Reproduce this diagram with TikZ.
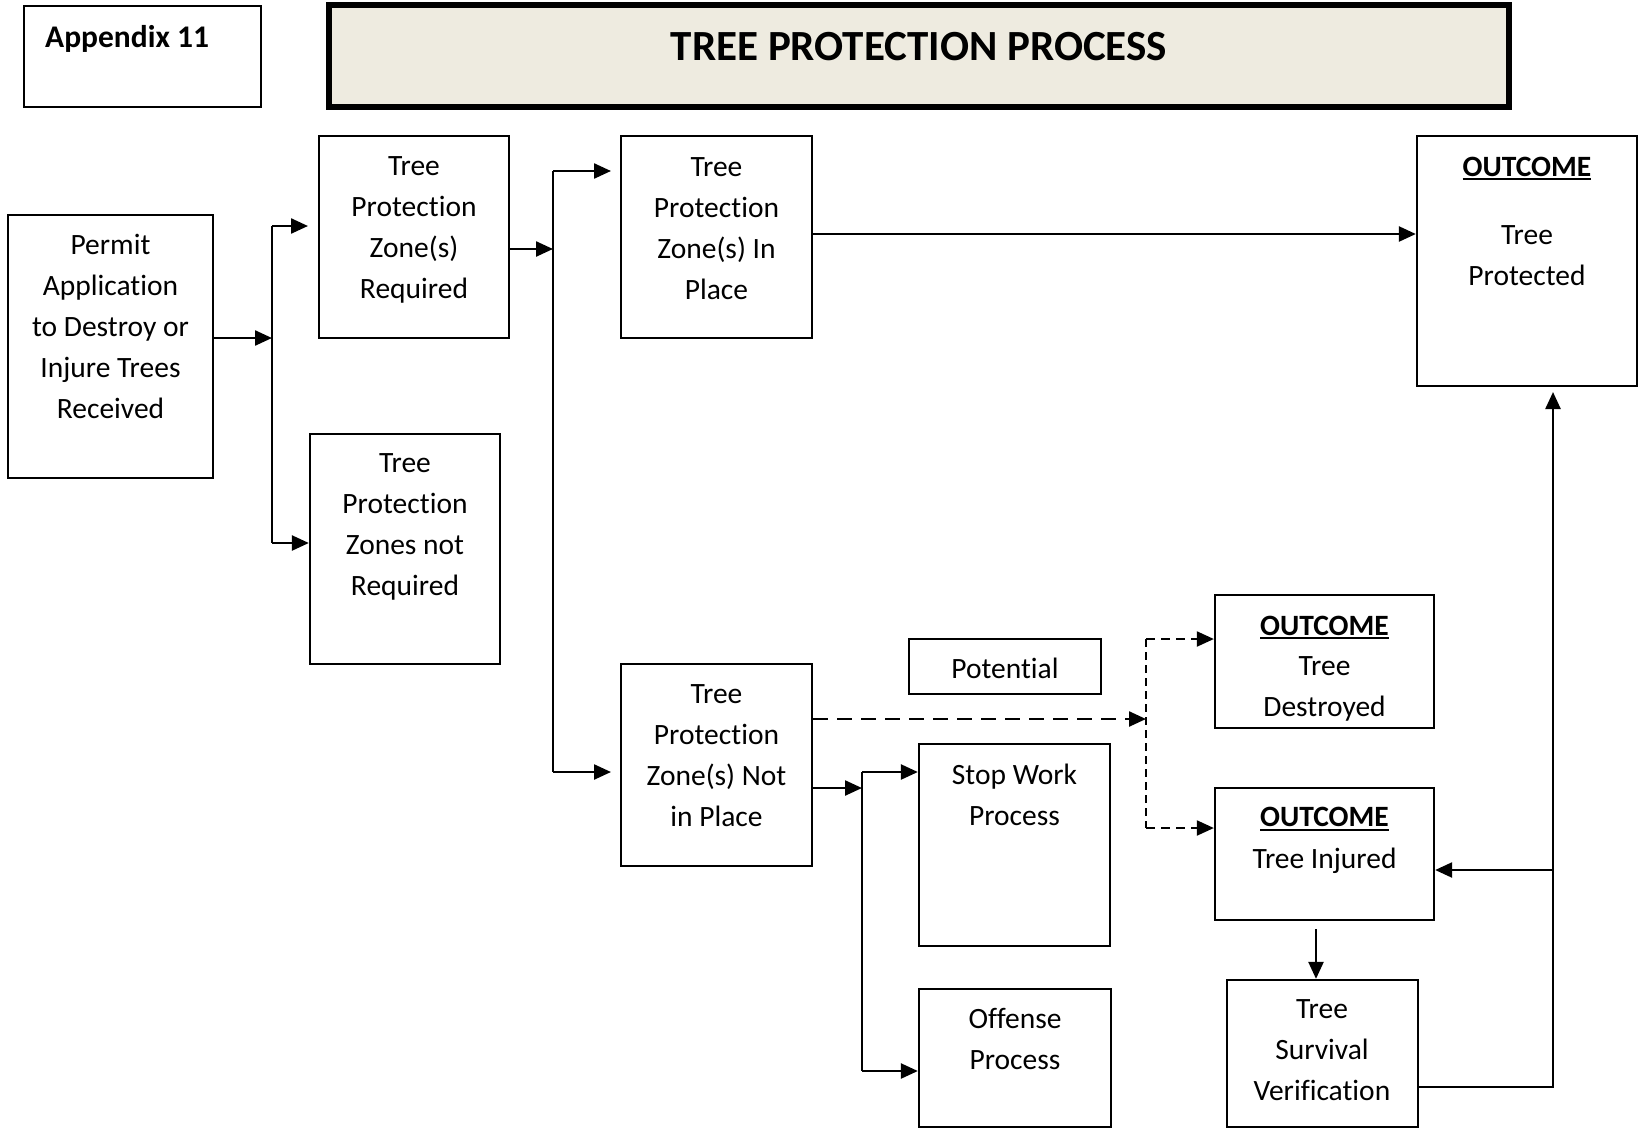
\documentclass[tikz,border=0pt]{standalone}
\usepackage{fontspec}
\setmainfont{Carlito}[Ligatures=NoCommon]
\usetikzlibrary{arrows.meta}
\definecolor{titlefill}{HTML}{EEEBE0}
% bold heading with a heavier underline
\newcommand{\outl}[1]{\setbox0\hbox{#1}\rlap{\rule[-4pt]{\wd0}{2pt}}\box0}

\begin{document}
\begin{tikzpicture}[x=1pt,y=-1pt,
  blk/.style={draw, line width=2.3pt, inner sep=0pt},
  txt/.style={align=center, inner sep=0pt, font=\fontsize{29.5}{41}\selectfont},
  hdr/.style={inner sep=0pt, anchor=base, font=\fontsize{29.5}{41}\selectfont\bfseries},
  conn/.style={line width=2.4pt},
  arr/.style={conn, -{Triangle[length=17pt,width=15pt]}},
  dashlong/.style={arr, dash pattern=on 15pt off 9pt},
  dashshort/.style={arr, line width=2.1pt, dash pattern=on 9pt off 6pt},
  dashvert/.style={line width=2.1pt, dash pattern=on 8pt off 5pt}
]
\useasboundingbox (0,0) rectangle (1638,1136);

% header
\node[blk, minimum width=237pt, minimum height=101pt] (appx) at (142.5,56.5) {};
\node[inner sep=0pt, anchor=base west, font=\fontsize{31.5}{38}\selectfont\bfseries] (appxt) at (45,47) {Appendix 11};
\node[draw, line width=5.5pt, fill=titlefill, minimum width=1180pt, minimum height=102pt, inner sep=0pt] (title) at (919,56) {};
\node[inner sep=0pt, anchor=base, font=\fontsize{43}{50}\selectfont\bfseries] (titlet) at (919,60) {TREE PROTECTION PROCESS};

% process boxes
\node[blk, minimum width=205pt, minimum height=263pt] (permit) at (110.5,346.5) {};
\node[txt] (permitt) at (110.5,326) {Permit\\Application\\to Destroy or\\Injure Trees\\Received};

\node[blk, minimum width=190pt, minimum height=202pt] (req) at (414,237) {};
\node[txt] (reqt) at (414,230) {Tree\\Protection\\Zone(s)\\Required};

\node[blk, minimum width=190pt, minimum height=230pt] (notreq) at (405,549) {};
\node[txt] (notreqt) at (405,526.5) {Tree\\Protection\\Zones not\\Required};

\node[blk, minimum width=191pt, minimum height=202pt] (inplace) at (716.5,237) {};
\node[txt] (inplacet) at (716.5,228.7) {Tree\\Protection\\Zone(s) In\\Place};

\node[blk, minimum width=191pt, minimum height=202pt] (notin) at (716.5,765) {};
\node[txt] (notint) at (716.5,756) {Tree\\Protection\\Zone(s) Not\\in Place};

\node[blk, minimum width=192pt, minimum height=55pt] (pot) at (1005,666.5) {};
\node[txt, anchor=base] (pott) at (1005,678.5) {Potential};

\node[blk, minimum width=191pt, minimum height=202pt] (stop) at (1014.5,845) {};
\node[txt] (stopt) at (1014.5,794.5) {Stop Work\\Process};

\node[blk, minimum width=192pt, minimum height=138pt] (off) at (1015,1058) {};
\node[txt] (offt) at (1015,1038.5) {Offense\\Process};

% outcomes
\node[blk, minimum width=220pt, minimum height=250pt] (prot) at (1527,261) {};
\node[hdr] (prott) at (1527,176) {\outl{OUTCOME}};
\node[txt] (protb) at (1527,255.5) {Tree\\Protected};

\node[blk, minimum width=219pt, minimum height=133pt] (destr) at (1324.5,661.5) {};
\node[hdr] (destrt) at (1324.5,635) {\outl{OUTCOME}};
\node[txt] (destrb) at (1324.5,688.5) {Tree\\Destroyed};

\node[blk, minimum width=219pt, minimum height=132pt] (injur) at (1324.5,854) {};
\node[hdr] (injurt) at (1324.5,826.5) {\outl{OUTCOME}};
\node[txt, anchor=base] (injurb) at (1324.5,868) {Tree Injured};

\node[blk, minimum width=191pt, minimum height=147pt] (surv) at (1322.5,1053.5) {};
\node[txt] (survt) at (1322,1050) {Tree\\Survival\\Verification};

% branch points
\coordinate (j1) at (272,338);
\coordinate (j1t) at (272,226);
\coordinate (j1b) at (272,543);
\coordinate (reqin) at (308,226);
\coordinate (j2) at (553,249);
\coordinate (j2t) at (553,171);
\coordinate (j2b) at (553,772);
\coordinate (inplin) at (611,171);
\coordinate (notinin) at (611,772);
\coordinate (yprot) at (0,234);
\coordinate (j3) at (1146,719);
\coordinate (j3t) at (1146,639);
\coordinate (j3b) at (1146,828);
\coordinate (j4) at (862,788);
\coordinate (j4t) at (862,772);
\coordinate (j4b) at (862,1071);
\coordinate (s1) at (1316,929);
\coordinate (r1) at (1553,1087);
\coordinate (rtop) at (1553,392);
\coordinate (rmid) at (1553,870);

% permit application split
\draw[arr] (permit.east |- j1) -- (j1);
\draw[conn] (j1t) -- (j1b);
\draw[arr] (j1t) -- (reqin);
\draw[arr] (j1b) -- (notreq.west |- j1b);

% zones required split
\draw[arr] (req.east |- j2) -- (j2);
\draw[conn] (j2t) -- (j2b);
\draw[arr] (j2t) -- (inplin);
\draw[arr] (j2b) -- (notinin);

% zones in place
\draw[arr] (inplace.east |- yprot) -- (prot.west |- yprot);

% potential outcomes
\draw[dashlong] (notin.east |- j3) -- (j3);
\draw[dashvert] (j3t) -- (j3b);
\draw[dashshort] (j3t) -- (destr.west |- j3t);
\draw[dashshort] (j3b) -- (injur.west |- j3b);

% enforcement
\draw[arr] (notin.east |- j4) -- (j4);
\draw[conn] (j4t) -- (j4b);
\draw[arr] (j4t) -- (stop.west |- j4t);
\draw[arr] (j4b) -- (off.west |- j4b);

% injured tree follow-up
\draw[arr] (s1) -- (s1 |- surv.north);
\draw[arr] (surv.east |- r1) -- (r1) -- (rtop);
\draw[arr] (rmid) -- (injur.east |- rmid);
\end{tikzpicture}
\end{document}
